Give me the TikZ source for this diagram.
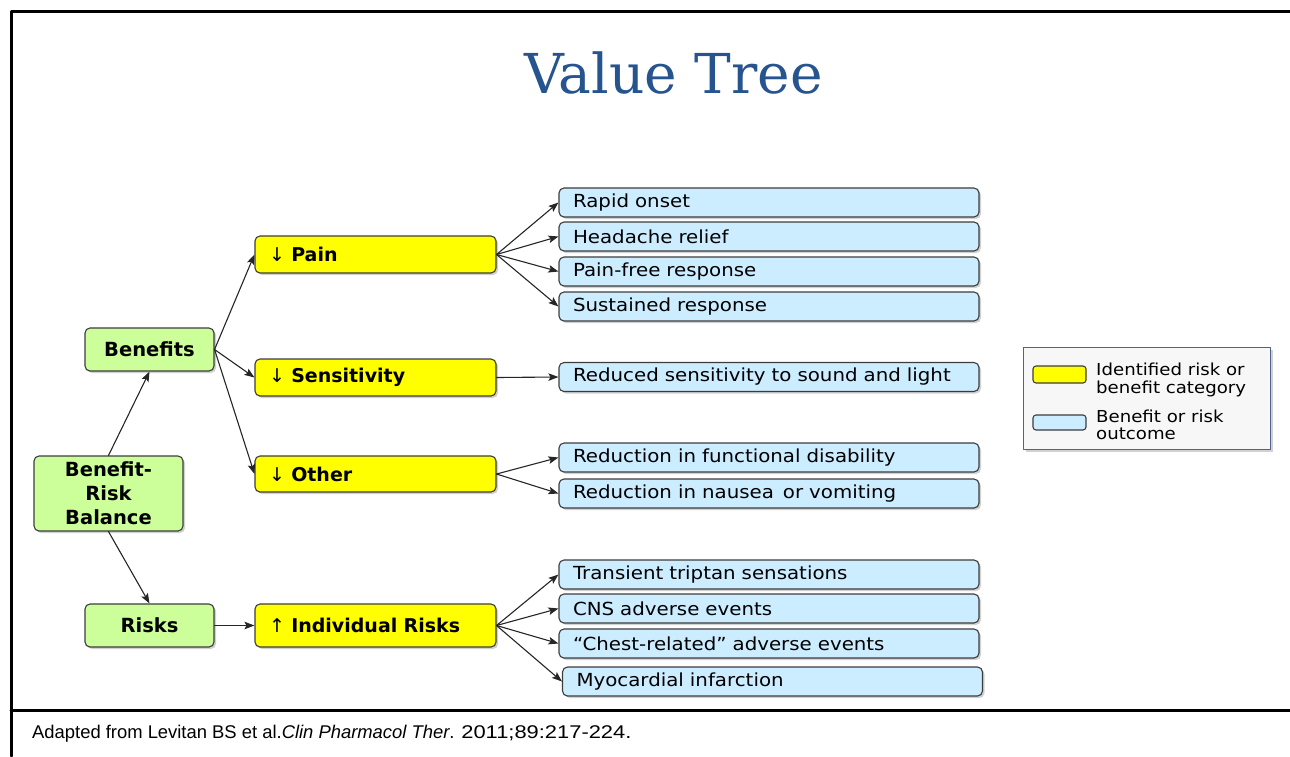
\documentclass[tikz,border=0pt]{standalone}
\usepackage{fontspec}
\setmainfont{DejaVu Sans}
\newfontfamily\titlefont{DejaVu Serif}
\newfontfamily\outfont[FakeStretch=1.1]{DejaVu Sans}
\newfontfamily\capfont{Liberation Sans}
\usetikzlibrary{shadows,arrows.meta}
\definecolor{topgreen}{RGB}{204,255,153}
\definecolor{catyellow}{RGB}{255,255,0}
\definecolor{outblue}{RGB}{204,236,255}
\definecolor{titleblue}{RGB}{37,84,143}
\definecolor{edgegray}{RGB}{60,60,60}
\definecolor{legborder}{RGB}{79,98,140}
\begin{document}
\begin{tikzpicture}[x=1pt,y=-1pt,>={Stealth[length=10pt,width=7.5pt,inset=2pt]},line join=round,line cap=round,
 box/.style={draw=edgegray,line width=1.1pt,rounded corners=5pt,inner ysep=0pt,
  drop shadow={shadow xshift=2pt,shadow yshift=-2pt,fill=black,opacity=.18}},
 topbox/.style={box,fill=topgreen,align=center,inner xsep=0pt,
  font=\fontsize{19.5}{24}\selectfont\bfseries},
 catbox/.style={box,fill=catyellow,text width=213pt,inner xsep=14pt,align=left,
  font=\fontsize{19}{22}\selectfont\bfseries},
 outbox/.style={box,fill=outblue,text width=392pt,inner xsep=14pt,align=left,
  minimum height=29pt,font=\outfont\fontsize{18}{20}\selectfont},
 swatch/.style={draw=edgegray,line width=1.1pt,rounded corners=3pt},
 legtext/.style={inner sep=0pt,align=left,font=\outfont\fontsize{16.5}{17.5}\selectfont},
 link/.style={->,draw=black!85,line width=1.1pt}]
 \useasboundingbox (0,0) rectangle (1290,756);
 % frame
 \draw[line width=3pt] (11,756)--(11,11)--(1290,11);
 \draw[line width=3pt] (11,710)--(1290,710);
 \node[font=\titlefont\fontsize{55}{60}\selectfont,text=titleblue,anchor=base] (title) at (673.5,93) {Value Tree};
 % left side
 \node[topbox,minimum width=149pt,minimum height=75pt] (balance) at (108.5,493.5) {Benefit-\\Risk\\Balance};
 \node[topbox,minimum width=129pt,minimum height=43pt] (benefits) at (149.5,349.5) {Benefits};
 \node[topbox,minimum width=129pt,minimum height=43pt] (risks) at (149.5,625.5) {Risks};
 % categories
 \node[catbox,minimum height=37pt] (pain) at (375.5,254.5) {{\mdseries↓} Pain};
 \node[catbox,minimum height=37pt] (sensitivity) at (375.5,377.5) {{\mdseries↓} Sensitivity};
 \node[catbox,minimum height=36pt] (other) at (375.5,474) {{\mdseries↓} Other};
 \node[catbox,minimum height=43pt] (indrisks) at (375.5,625.5) {{\mdseries↑} Individual Risks};
 % outcomes
 \node[outbox] (rapid) at (769,202.5) {Rapid onset};
 \node[outbox] (headache) at (769,236.5) {Headache relief};
 \node[outbox] (painfree) at (769,271.5) {Pain-free response};
 \node[outbox] (sustained) at (769,306.5) {Sustained response};
 \node[outbox] (reduced) at (769,377) {Reduced sensitivity to sound and light};
 \node[outbox] (functional) at (769,457.5) {Reduction in functional disability};
 \node[outbox] (nausea) at (769,493.5) {Reduction in nausea\, or vomiting};
 \node[outbox] (transient) at (769,574.5) {Transient triptan sensations};
 \node[outbox] (cns) at (769,608.5) {CNS adverse events};
 \node[outbox] (chest) at (769,643.5) {“Chest-related” adverse events};
 \node[outbox] (myocardial) at (772.5,681.5) {Myocardial infarction};
 % connectors
 \draw[link] (balance.north)--(benefits.south);
 \draw[link] (balance.south)--(risks.north);
 \foreach \c in {pain,sensitivity,other}
  \draw[link] (benefits.east)--(\c.west);
 \draw[link] (risks.east)--(indrisks.west);
 \foreach \o in {rapid,headache,painfree,sustained}
  \draw[link] (pain.east)--(\o.west);
 \draw[link] (sensitivity.east)--(reduced.west);
 \foreach \o in {functional,nausea}
  \draw[link] (other.east)--(\o.west);
 \foreach \o in {transient,cns,chest,myocardial}
  \draw[link] (indrisks.east)--(\o.west);
 % legend
 \draw[draw=legborder,line width=1pt,fill=black!3,
  drop shadow={shadow xshift=3pt,shadow yshift=-3pt,fill=black,opacity=.18}]
  (1023,347) rectangle (1270,449);
 \draw[swatch,fill=catyellow] (1033,366) rectangle (1086,383);
 \draw[swatch,fill=outblue] (1033,415) rectangle (1086,430);
 \node[legtext,anchor=west] (legcat) at (1096,380) {Identified risk or\\benefit category};
 \node[legtext,anchor=west] (legout) at (1096,425) {Benefit or risk\\outcome};
 % source
 \node[font=\capfont\fontsize{18.4}{22}\selectfont,anchor=base west,inner sep=0pt] (source) at (32,738)
  {Adapted from Levitan BS et al.\textit{Clin Pharmacol Ther}. {\addfontfeature{FakeStretch=1.19}2011;89:217-224.}};
\end{tikzpicture}
\end{document}
